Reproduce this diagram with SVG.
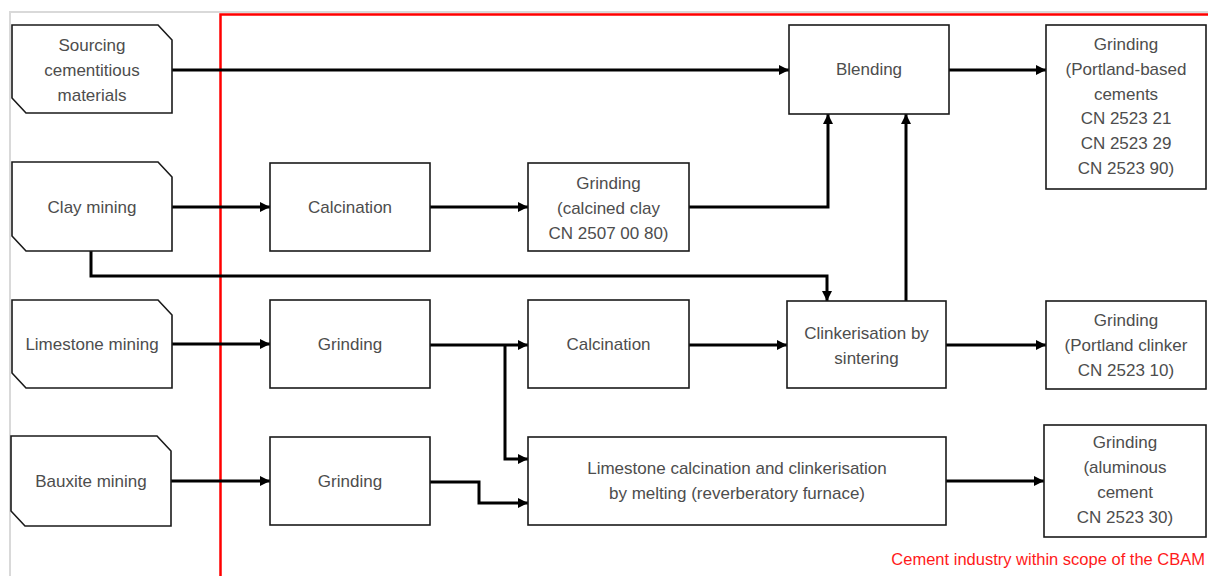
<svg xmlns="http://www.w3.org/2000/svg" width="1208" height="576" viewBox="0 0 1208 576">
  <style>
    .box { fill: #ffffff; stroke: #1a1a1a; stroke-width: 1.6; }
    .lbl { font-family: "Liberation Sans", Arial, sans-serif; font-size: 17px; fill: #4d4d4d; text-anchor: middle; }
    .wire { fill: none; stroke: #000000; stroke-width: 3; }
    .arrow { marker-end: url(#head); }
  </style>
  <defs>
    <marker id="head" markerUnits="userSpaceOnUse" markerWidth="11" markerHeight="11" refX="10" refY="5" orient="auto">
      <path d="M0,0 L10,5 L0,10 Z" fill="#000000"/>
    </marker>
  </defs>

  <rect width="1208" height="576" fill="#ffffff"/>
  <!-- outer frame -->
  <path d="M10,576 L10,12 L1208,12" fill="none" stroke="#d9d9d9" stroke-width="2"/>
  <!-- CBAM scope boundary -->
  <rect x="220.5" y="14.5" width="1000" height="600" fill="none" stroke="#ff0000" stroke-width="2.5"/>
  <text x="1205" y="565" font-family="Liberation Sans, Arial, sans-serif" font-size="16.5" fill="#ff1a1a" text-anchor="end">Cement industry within scope of the CBAM</text>

  <!-- connectors -->
  <g id="connectors">
    <path class="wire arrow" d="M172,70 L789,70"/>
    <path class="wire arrow" d="M949,70 L1046,70"/>
    <path class="wire arrow" d="M172,207 L270,207"/>
    <path class="wire arrow" d="M430,207 L528,207"/>
    <path class="wire arrow" d="M689,207 L828,207 L828,114"/>
    <path class="wire arrow" d="M906,301 L906,114"/>
    <path class="wire arrow" d="M91,251 L91,276 L827,276 L827,301"/>
    <path class="wire arrow" d="M172,344 L270,344"/>
    <path class="wire arrow" d="M430,345 L528,345"/>
    <path class="wire arrow" d="M505,345 L505,459 L528,459"/>
    <path class="wire arrow" d="M689,345 L787,345"/>
    <path class="wire arrow" d="M946,345 L1046,345"/>
    <path class="wire arrow" d="M171,481 L270,481"/>
    <path class="wire arrow" d="M430,482 L479,482 L479,503 L528,503"/>
    <path class="wire arrow" d="M946,481 L1044,481"/>
  </g>

  <!-- raw material sources -->
  <g id="sourcing">
    <path class="box" d="M12,25 L158,25 L172,40 L172,113 L26,113 L12,98 Z"/>
    <text class="lbl" x="92" y="51">Sourcing</text>
    <text class="lbl" x="92" y="76">cementitious</text>
    <text class="lbl" x="92" y="101">materials</text>
  </g>
  <g id="clay-mining">
    <path class="box" d="M12,162 L158,162 L172,177 L172,251 L26,251 L12,236 Z"/>
    <text class="lbl" x="92" y="213">Clay mining</text>
  </g>
  <g id="limestone-mining">
    <path class="box" d="M12,300 L158,300 L172,315 L172,388 L26,388 L12,373 Z"/>
    <text class="lbl" x="92" y="350">Limestone mining</text>
  </g>
  <g id="bauxite-mining">
    <path class="box" d="M11,436 L157,436 L171,451 L171,526 L25,526 L11,511 Z"/>
    <text class="lbl" x="91" y="487">Bauxite mining</text>
  </g>

  <!-- clay route -->
  <g id="clay-calcination">
    <rect class="box" x="270" y="163" width="160" height="88"/>
    <text class="lbl" x="350" y="213">Calcination</text>
  </g>
  <g id="grinding-calcined-clay">
    <rect class="box" x="528" y="163" width="161" height="88"/>
    <text class="lbl" x="608.5" y="189">Grinding</text>
    <text class="lbl" x="608.5" y="214">(calcined clay</text>
    <text class="lbl" x="608.5" y="239">CN 2507 00 80)</text>
  </g>

  <!-- blending and Portland-based cements -->
  <g id="blending">
    <rect class="box" x="789" y="25" width="160" height="89"/>
    <text class="lbl" x="869" y="75">Blending</text>
  </g>
  <g id="grinding-portland-cements">
    <rect class="box" x="1046" y="25" width="160" height="164"/>
    <text class="lbl" x="1126" y="50">Grinding</text>
    <text class="lbl" x="1126" y="75">(Portland-based</text>
    <text class="lbl" x="1126" y="100">cements</text>
    <text class="lbl" x="1126" y="124">CN 2523 21</text>
    <text class="lbl" x="1126" y="149">CN 2523 29</text>
    <text class="lbl" x="1126" y="174">CN 2523 90)</text>
  </g>

  <!-- limestone route -->
  <g id="limestone-grinding">
    <rect class="box" x="270" y="300" width="160" height="88"/>
    <text class="lbl" x="350" y="350">Grinding</text>
  </g>
  <g id="limestone-calcination">
    <rect class="box" x="528" y="300" width="161" height="88"/>
    <text class="lbl" x="608.5" y="350">Calcination</text>
  </g>
  <g id="clinkerisation">
    <rect class="box" x="787" y="301" width="159" height="87"/>
    <text class="lbl" x="866.5" y="339">Clinkerisation by</text>
    <text class="lbl" x="866.5" y="364">sintering</text>
  </g>
  <g id="grinding-portland-clinker">
    <rect class="box" x="1046" y="301" width="160" height="88"/>
    <text class="lbl" x="1126" y="326">Grinding</text>
    <text class="lbl" x="1126" y="351">(Portland clinker</text>
    <text class="lbl" x="1126" y="376">CN 2523 10)</text>
  </g>

  <!-- bauxite route -->
  <g id="bauxite-grinding">
    <rect class="box" x="270" y="437" width="160" height="88"/>
    <text class="lbl" x="350" y="487">Grinding</text>
  </g>
  <g id="melting">
    <rect class="box" x="528" y="437" width="418" height="88"/>
    <text class="lbl" x="737" y="474">Limestone calcination and clinkerisation</text>
    <text class="lbl" x="737" y="499">by melting (reverberatory furnace)</text>
  </g>
  <g id="grinding-aluminous-cement">
    <rect class="box" x="1044" y="425" width="162" height="112"/>
    <text class="lbl" x="1125" y="448">Grinding</text>
    <text class="lbl" x="1125" y="473">(aluminous</text>
    <text class="lbl" x="1125" y="498">cement</text>
    <text class="lbl" x="1125" y="523">CN 2523 30)</text>
  </g>
</svg>
